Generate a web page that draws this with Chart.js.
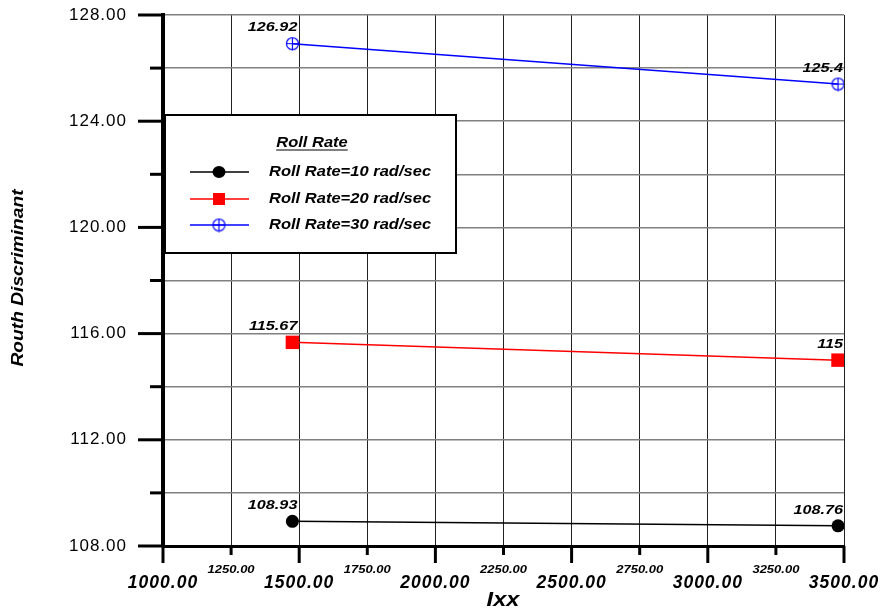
<!DOCTYPE html>
<html>
<head>
<meta charset="utf-8">
<script src="https://cdn.jsdelivr.net/npm/chart.js@4.4.1/dist/chart.umd.min.js"></script>
<style>
  html, body { margin: 0; padding: 0; background: #fff; }
  #wrap { width: 883px; height: 613px; }
</style>
</head>
<body>
<div id="wrap"><canvas id="c" width="883" height="613"></canvas></div>
<script>
// Moment of inertia Ixx at the two test points
const ixx = [1475, 3478];
// Routh discriminant for each roll rate
const rate10 = [108.93, 108.76];
const rate20 = [115.67, 115.00];
const rate30 = [126.92, 125.40];
const valueText10 = ['108.93', '108.76'];
const valueText20 = ['115.67', '115'];
const valueText30 = ['126.92', '125.4'];
const seriesNames = ['Roll Rate=10 rad/sec', 'Roll Rate=20 rad/sec', 'Roll Rate=30 rad/sec'];
const legendTitle = 'Roll Rate';
const xTitle = 'Ixx';
const yTitle = 'Routh Discriminant';
// Axis ticks
const xMajor = [1000, 1500, 2000, 2500, 3000, 3500];
const xMinor = [1250, 1750, 2250, 2750, 3250];
const yMajor = [108, 112, 116, 120, 124, 128];
const yMinor = [110, 114, 118, 122, 126];

const FONT = '"Liberation Sans", Arial, Helvetica, sans-serif';
const WIDE = 1.18; // horizontal widening of the annotation lettering

// open circle with a plus sign through it
function crossCircle(r, color) {
  const s = 2 * r + 3;
  const c = document.createElement('canvas');
  c.width = s; c.height = s;
  const g = c.getContext('2d');
  g.strokeStyle = color; g.lineWidth = 1.2;
  const m = s / 2;
  g.beginPath();
  g.arc(m, m, r, 0, Math.PI * 2);
  g.moveTo(m - r, m); g.lineTo(m + r, m);
  g.moveTo(m, m - r); g.lineTo(m, m + r + 1);
  g.stroke();
  return c;
}
const blueMarker = crossCircle(6, '#0000ff');

function toPoints(ys) { return ixx.map((x, i) => ({ x: x, y: ys[i] })); }

function seg(ctx, x1, y1, x2, y2, w) {
  ctx.lineWidth = w;
  ctx.beginPath(); ctx.moveTo(x1, y1); ctx.lineTo(x2, y2); ctx.stroke();
}

// text drawn with a horizontal stretch; returns drawn width
function wideText(ctx, text, x, y, k) {
  ctx.save();
  ctx.translate(x, y);
  ctx.scale(k, 1);
  ctx.fillText(text, 0, 0);
  const w = ctx.measureText(text).width * k;
  ctx.restore();
  return w;
}

function noEdgePadding(s) {
  s.paddingLeft = 0; s.paddingRight = 0; s.paddingTop = 0; s.paddingBottom = 0;
}

// wider spacing for the axis tick lettering
const spacing = {
  id: 'spacing',
  beforeDraw(chart) { if ('letterSpacing' in chart.ctx) chart.ctx.letterSpacing = '1px'; },
  beforeDatasetsDraw(chart) { if ('letterSpacing' in chart.ctx) chart.ctx.letterSpacing = '0px'; }
};

const decorations = {
  id: 'decorations',
  afterDatasetsDraw(chart) {
    const { ctx, chartArea: a } = chart;
    const xs = chart.scales.x, ys = chart.scales.y;
    ctx.save();
    ctx.strokeStyle = '#000';
    ctx.lineCap = 'butt';
    // tick marks
    yMajor.forEach(v => { const p = ys.getPixelForValue(v); seg(ctx, a.left - 25, p, a.left, p, 3); });
    yMinor.forEach(v => { const p = ys.getPixelForValue(v); seg(ctx, a.left - 13, p, a.left, p, 3); });
    xMajor.forEach(v => { const p = xs.getPixelForValue(v); seg(ctx, p, a.bottom, p, a.bottom + 17, 3); });
    xMinor.forEach(v => { const p = xs.getPixelForValue(v); seg(ctx, p, a.bottom, p, a.bottom + 9, 3); });

    // small labels between the main x labels
    ctx.fillStyle = '#000';
    ctx.font = 'italic bold 10px ' + FONT;
    ctx.textAlign = 'center';
    ctx.textBaseline = 'middle';
    xMinor.forEach(v => wideText(ctx, v.toFixed(2), xs.getPixelForValue(v), a.bottom + 24.5, 1.3));

    // value labels above each point
    ctx.font = 'italic bold 13.5px ' + FONT;
    ctx.textAlign = 'right';
    chart.data.datasets.forEach((ds, di) => {
      const meta = chart.getDatasetMeta(di);
      meta.data.forEach((pt, i) => {
        wideText(ctx, ds.valueText[i], pt.x + 5, pt.y - 16, 1.2);
      });
    });

    // axis titles
    ctx.textAlign = 'center';
    ctx.font = 'italic bold 20px ' + FONT;
    wideText(ctx, xTitle, 503, 600, WIDE);
    ctx.save();
    ctx.translate(19, 278);
    ctx.rotate(-Math.PI / 2);
    ctx.font = 'italic bold 16px ' + FONT;
    wideText(ctx, yTitle, 0, 0, 1.2);
    ctx.restore();

    // legend box
    const L = 165, T = 115, R = 456, B = 253;
    ctx.fillStyle = '#fff';
    ctx.fillRect(L, T, R - L, B - T);
    ctx.strokeStyle = '#000';
    ctx.lineWidth = 2;
    ctx.strokeRect(L, T, R - L, B - T);
    ctx.fillStyle = '#000';
    ctx.font = 'italic bold 14px ' + FONT;
    ctx.textAlign = 'center';
    const tw = wideText(ctx, legendTitle, 312, 143, WIDE);
    seg(ctx, 312 - tw / 2, 150, 312 + tw / 2, 150, 1);
    const rows = [172, 199, 225];
    chart.data.datasets.forEach((ds, di) => {
      const ry = rows[di];
      ctx.strokeStyle = ds.borderColor;
      seg(ctx, 190, ry, 249, ry, 1.5);
      const mx = 219;
      if (di === 0) {
        ctx.fillStyle = '#000';
        ctx.beginPath(); ctx.ellipse(mx, ry, 6.5, 6, 0, 0, Math.PI * 2); ctx.fill();
      } else if (di === 1) {
        ctx.fillStyle = '#ff0000';
        ctx.fillRect(mx - 6, ry - 6, 12, 12);
      } else {
        ctx.drawImage(blueMarker, mx - blueMarker.width / 2, ry - blueMarker.height / 2);
      }
      ctx.fillStyle = '#000';
      ctx.textAlign = 'left';
      ctx.font = 'italic bold 14px ' + FONT;
      wideText(ctx, ds.label, 269, ry, WIDE);
    });
    ctx.restore();
  }
};

new Chart(document.getElementById('c'), {
  type: 'scatter',
  data: {
    datasets: [
      {
        label: seriesNames[0], data: toPoints(rate10), valueText: valueText10,
        showLine: true, borderColor: '#000000', backgroundColor: '#000000', borderWidth: 1.5,
        pointStyle: 'circle', pointRadius: 6.5, pointBorderWidth: 0
      },
      {
        label: seriesNames[1], data: toPoints(rate20), valueText: valueText20,
        showLine: true, borderColor: '#ff0000', backgroundColor: '#ff0000', borderWidth: 1.5,
        pointStyle: 'rect', pointRadius: 9.5, pointBorderWidth: 0
      },
      {
        label: seriesNames[2], data: toPoints(rate30), valueText: valueText30,
        showLine: true, borderColor: '#0000ff', backgroundColor: '#0000ff', borderWidth: 1.5,
        pointStyle: blueMarker
      }
    ]
  },
  options: {
    responsive: false,
    devicePixelRatio: 1,
    animation: false,
    layout: { padding: { top: 15, right: 39, left: 0, bottom: 0 } },
    plugins: { legend: { display: false }, tooltip: { enabled: false } },
    scales: {
      x: {
        type: 'linear', min: 1000, max: 3500,
        afterBuildTicks: s => { s.ticks = xMajor.concat(xMinor).sort((p, q) => p - q).map(v => ({ value: v })); },
        afterFit: s => { s.height = 67; noEdgePadding(s); },
        ticks: {
          autoSkip: false, maxRotation: 0, padding: 27, color: '#000',
          font: { family: FONT, size: 17.5, style: 'italic', weight: 'bold' },
          callback: v => (xMajor.includes(v) ? v.toFixed(2) : '')
        },
        grid: { drawTicks: false, color: '#222', lineWidth: 1 },
        border: { display: true, color: '#000', width: 3 }
      },
      y: {
        type: 'linear', min: 108, max: 128,
        afterBuildTicks: s => { s.ticks = yMajor.concat(yMinor).sort((p, q) => p - q).map(v => ({ value: v })); },
        afterFit: s => { s.width = 163; noEdgePadding(s); },
        ticks: {
          autoSkip: false, padding: 36, color: '#000',
          font: { family: FONT, size: 17 },
          callback: v => (yMajor.includes(v) ? v.toFixed(2) : '')
        },
        grid: { drawTicks: false, color: '#808080', lineWidth: 1.5 },
        border: { display: true, color: '#000', width: 4 }
      }
    }
  },
  plugins: [spacing, decorations]
});
</script>
</body>
</html>
